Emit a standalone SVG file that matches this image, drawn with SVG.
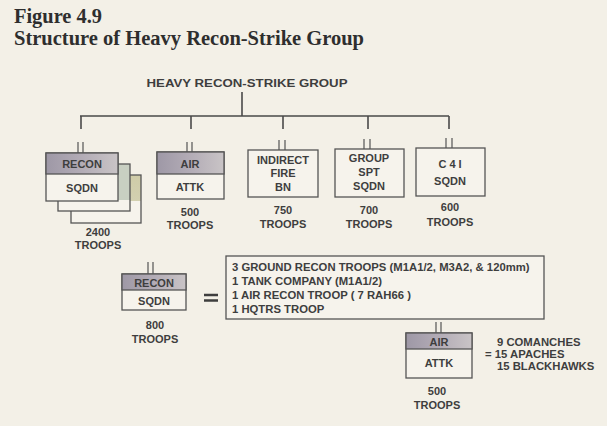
<svg xmlns="http://www.w3.org/2000/svg" width="607" height="426" viewBox="0 0 607 426">
<defs>
<linearGradient id="band" x1="0" y1="0" x2="1" y2="0">
<stop offset="0" stop-color="#9e98a6"/>
<stop offset="0.5" stop-color="#b3acb6"/>
<stop offset="1" stop-color="#c9c4c6"/>
</linearGradient>
<linearGradient id="g2" x1="0" y1="0" x2="0" y2="1">
<stop offset="0" stop-color="#c8cfc2"/>
<stop offset="0.76" stop-color="#c8cfc2"/>
<stop offset="0.77" stop-color="#f6f3ec"/>
<stop offset="1" stop-color="#f6f3ec"/>
</linearGradient>
<linearGradient id="g3" x1="0" y1="0" x2="0" y2="1">
<stop offset="0" stop-color="#cfcca8"/>
<stop offset="0.54" stop-color="#d3d0b0"/>
<stop offset="0.55" stop-color="#f6f3ec"/>
<stop offset="1" stop-color="#f6f3ec"/>
</linearGradient>
</defs>
<style>
.bg{fill:#f3f0e7}
.t{font-family:"Liberation Sans",Arial,sans-serif;font-weight:bold;fill:#3e3e3e;font-size:11px;text-anchor:middle}
.tl{font-family:"Liberation Sans",Arial,sans-serif;font-weight:bold;fill:#3e3e3e;font-size:11.3px}
.ttl{font-family:"Liberation Serif","Times New Roman",serif;font-weight:bold;fill:#2e2e2e;font-size:20px}
.box{fill:#f6f3ec;stroke:#555;stroke-width:1.3}
.band{fill:url(#band);stroke:#555;stroke-width:1.3}
.ln{stroke:#4a4a4a;stroke-width:1.6;fill:none}
.tk{stroke:#555;stroke-width:1.2;fill:none}
</style>
<rect class="bg" x="0" y="0" width="607" height="426"/>
<text class="ttl" x="14" y="23" textLength="88" lengthAdjust="spacingAndGlyphs">Figure 4.9</text>
<text class="ttl" x="14" y="45" textLength="350" lengthAdjust="spacingAndGlyphs">Structure of Heavy Recon-Strike Group</text>

<g id="connectors">
<path class="ln" d="M242 92V116M80 116H449M81 116V129M191 116V129M283 116V129M368 116V129M449 116V129"/>
<path class="tk" d="M78 142V153M83 142V153M187 142V152M192 142V152M279 140V150M285 140V150M364 139V149M370 139V149M446 138V148M452 138V148M148 262V274M153 262V274M436 322V333M441 322V333"/>
</g>

<g id="hq">
<text class="t" x="247" y="87" font-size="12" textLength="201" lengthAdjust="spacingAndGlyphs">HEAVY RECON-STRIKE GROUP</text>
</g>

<g id="recon-sqdn">
<rect x="71" y="175" width="70" height="48" fill="url(#g3)" stroke="#555" stroke-width="1.3"/>
<rect x="58" y="164" width="72" height="47" fill="url(#g2)" stroke="#555" stroke-width="1.3"/>
<rect class="box" x="46" y="153" width="72" height="48"/>
<rect class="band" x="46" y="153" width="72" height="21"/>
<text class="t" x="82" y="168" font-size="12.5">RECON</text>
<text class="t" x="82" y="192" font-size="12">SQDN</text>
<text class="t" x="98" y="236">2400</text>
<text class="t" x="98" y="249">TROOPS</text>
</g>

<g id="air-attk">
<rect class="box" x="157" y="152" width="67" height="47"/>
<rect class="band" x="157" y="152" width="67" height="22"/>
<text class="t" x="190" y="168" font-size="12">AIR</text>
<text class="t" x="190" y="191" font-size="11.5">ATTK</text>
<text class="t" x="190" y="216">500</text>
<text class="t" x="190" y="229">TROOPS</text>
</g>

<g id="indirect-fire">
<rect class="box" x="248" y="150" width="70" height="47"/>
<text class="t" x="283" y="164">INDIRECT</text>
<text class="t" x="283" y="177">FIRE</text>
<text class="t" x="283" y="191">BN</text>
<text class="t" x="283" y="214">750</text>
<text class="t" x="283" y="228">TROOPS</text>
</g>

<g id="group-spt">
<rect class="box" x="335" y="149" width="69" height="48"/>
<text class="t" x="369" y="162">GROUP</text>
<text class="t" x="369" y="176">SPT</text>
<text class="t" x="369" y="190">SQDN</text>
<text class="t" x="369" y="214">700</text>
<text class="t" x="369" y="228">TROOPS</text>
</g>

<g id="c4i">
<rect class="box" x="416" y="148" width="69" height="48"/>
<text class="t" x="450" y="168" font-size="11.5">C 4 I</text>
<text class="t" x="450" y="185" font-size="11.5">SQDN</text>
<text class="t" x="450" y="211">600</text>
<text class="t" x="450" y="226">TROOPS</text>
</g>

<g id="recon-detail">
<rect class="box" x="122" y="274" width="64" height="36"/>
<rect class="band" x="122" y="274" width="64" height="16"/>
<text class="t" x="154" y="286.5" font-size="11.5">RECON</text>
<text class="t" x="154" y="304.5" font-size="11.5">SQDN</text>
<text class="t" x="155" y="329" font-size="10.5">800</text>
<text class="t" x="155" y="343" font-size="10.5">TROOPS</text>
</g>

<g id="equals">
<path d="M204 295H218M204 300.5H218" stroke="#3e3e3e" stroke-width="2.4"/>
</g>

<g id="recon-composition">
<rect class="box" x="226" y="256" width="318" height="63"/>
<text class="tl" x="232" y="271">3 GROUND RECON TROOPS (M1A1/2, M3A2, &amp; 120mm)</text>
<text class="tl" x="232" y="285">1 TANK COMPANY (M1A1/2)</text>
<text class="tl" x="232" y="299">1 AIR RECON TROOP ( 7 RAH66 )</text>
<text class="tl" x="232" y="313">1 HQTRS TROOP</text>
</g>

<g id="air-detail">
<rect class="box" x="406" y="333" width="66" height="45"/>
<rect class="band" x="406" y="333" width="66" height="16"/>
<text class="t" x="439" y="345.5" font-size="11">AIR</text>
<text class="t" x="439" y="367" font-size="10.5">ATTK</text>
<text class="t" x="437" y="395">500</text>
<text class="t" x="437" y="409">TROOPS</text>
</g>

<g id="air-composition">
<text class="tl" x="497" y="346" font-size="11.4">9 COMANCHES</text>
<text class="tl" x="485" y="358" font-size="11.4">= 15 APACHES</text>
<text class="tl" x="497" y="370" font-size="11.4">15 BLACKHAWKS</text>
</g>
</svg>
